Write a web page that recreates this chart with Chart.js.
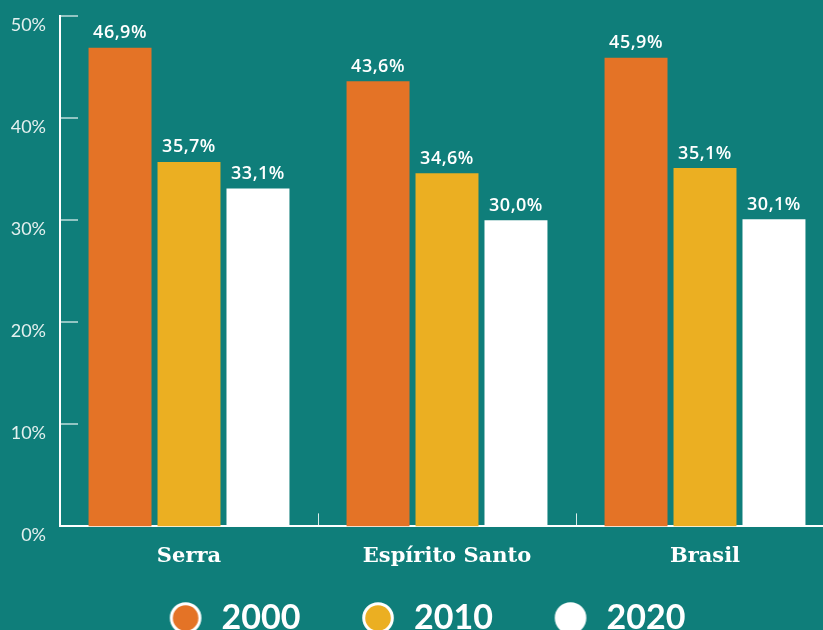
<!DOCTYPE html>
<html><head><meta charset="utf-8">
<script src="https://cdn.jsdelivr.net/npm/chart.js@4"></script>
<style>
html,body{margin:0;padding:0;background:#0f7e7a;overflow:hidden;width:823px;height:630px}
#wrap{position:relative;width:834px;height:677px}
canvas{display:block}
</style></head><body>
<div id="wrap"><canvas id="c" width="834" height="677"></canvas></div>
<script>
const categories = ['Serra', 'Espírito Santo', 'Brasil'];
const seriesNames = ['2000', '2010', '2020'];
const values2000 = [46.9, 43.6, 45.9];
const values2010 = [35.7, 34.6, 35.1];
const values2020 = [33.1, 30.0, 30.1];
const yTicks = [0, 10, 20, 30, 40, 50];
const seriesColors = ['#e47326', '#ebaf22', '#ffffff'];

const fmt = v => v.toFixed(1).replace('.', ',') + '%';

function legendDot(color) {
  const c = document.createElement('canvas');
  c.width = 34; c.height = 34;
  const g = c.getContext('2d');
  g.beginPath();
  g.arc(17, 17, 14.3, 0, Math.PI * 2);
  g.fillStyle = color;
  g.fill();
  g.lineWidth = 3;
  g.strokeStyle = '#ffffff';
  g.stroke();
  return c;
}
const legendDots = seriesColors.map(legendDot);

const axisMarks = {
  id: 'axisMarks',
  afterDraw(chart) {
    const {ctx, chartArea, scales: {x, y}} = chart;
    ctx.save();
    ctx.strokeStyle = 'rgba(255,255,255,0.55)';
    ctx.lineWidth = 2;
    y.ticks.forEach(t => {
      if (t.value === 0) return;
      const py = Math.round(y.getPixelForValue(t.value));
      ctx.beginPath();
      ctx.moveTo(chartArea.left, py);
      ctx.lineTo(chartArea.left + 18, py);
      ctx.stroke();
    });
    ctx.strokeStyle = 'rgba(255,255,255,0.85)';
    ctx.lineWidth = 1;
    for (let i = 0; i < categories.length - 1; i++) {
      const px = Math.round((x.getPixelForTick(i) + x.getPixelForTick(i + 1)) / 2) + 0.5;
      ctx.beginPath();
      ctx.moveTo(px, chartArea.bottom);
      ctx.lineTo(px, chartArea.bottom - 13);
      ctx.stroke();
    }
    ctx.restore();
  }
};

const valueLabels = {
  id: 'valueLabels',
  afterDatasetsDraw(chart) {
    const {ctx} = chart;
    ctx.save();
    ctx.fillStyle = '#ffffff';
    ctx.font = '600 18px "Open Sans", sans-serif';
    try { ctx.letterSpacing = '0.5px'; } catch (e) {}
    ctx.textAlign = 'center';
    ctx.textBaseline = 'alphabetic';
    chart.data.datasets.forEach((ds, di) => {
      chart.getDatasetMeta(di).data.forEach((el, i) => {
        ctx.fillText(fmt(ds.data[i]), el.x, el.y - 9.5);
      });
    });
    ctx.restore();
  }
};

// place the legend row just under the plot, overlapping the (transparent) x-axis label band
const legendPlacement = {
  id: 'legendPlacement',
  afterLayout(chart) {
    const lg = chart.legend;
    if (!lg) return;
    const target = chart.chartArea.bottom + 16;
    const d = lg.top - target;
    lg.top -= d;
    lg.bottom -= d;
    lg.left += 5;
    lg.right += 5;
    (lg.legendHitBoxes || []).forEach(h => { h.top -= d; h.left += 5; });
  }
};

new Chart(document.getElementById('c'), {
  type: 'bar',
  data: {
    labels: categories,
    datasets: [values2000, values2010, values2020].map((d, i) => ({
      label: seriesNames[i],
      data: d,
      backgroundColor: seriesColors[i],
      borderWidth: 0,
      categoryPercentage: 0.802,
      barPercentage: 0.913
    }))
  },
  options: {
    responsive: false,
    animation: false,
    devicePixelRatio: 1,
    layout: {padding: {left: 8, right: 0, top: 16, bottom: 0}},
    plugins: {
      tooltip: {enabled: false},
      legend: {
        position: 'bottom',
        labels: {
          color: '#ffffff',
          font: {family: 'Lato, sans-serif', size: 34, weight: 'bold'},
          usePointStyle: true,
          pointStyleWidth: 38,
          boxHeight: 34,
          padding: 58.6,
          generateLabels: chart => chart.data.datasets.map((ds, i) => ({
            text: ds.label,
            fillStyle: seriesColors[i],
            strokeStyle: '#ffffff',
            lineWidth: 0,
            pointStyle: legendDots[i],
            fontColor: '#ffffff',
            hidden: false,
            datasetIndex: i
          }))
        }
      }
    },
    scales: {
      x: {
        grid: {display: false, drawTicks: false},
        border: {display: true, color: '#ffffff', width: 2},
        ticks: {
          color: '#ffffff',
          padding: 18,
          font: {family: "'DejaVu Serif', serif", size: 21, weight: 'bold'}
        },
        afterFit: s => { s.height = 48; }
      },
      y: {
        min: 0,
        max: 50,
        afterBuildTicks: s => { s.ticks = yTicks.map(v => ({value: v})); },
        grid: {display: false, drawTicks: false},
        border: {display: true, color: '#ffffff', width: 2},
        ticks: {
          color: '#e4f0ef',
          padding: 14,
          labelOffset: 9,
          font: {family: 'Lato, sans-serif', size: 18},
          callback: v => v + '%'
        },
        afterFit: s => { s.width = 52; s.paddingTop = 0; s.paddingBottom = 0; }
      }
    }
  },
  plugins: [axisMarks, valueLabels, legendPlacement]
});
</script>
</body></html>
